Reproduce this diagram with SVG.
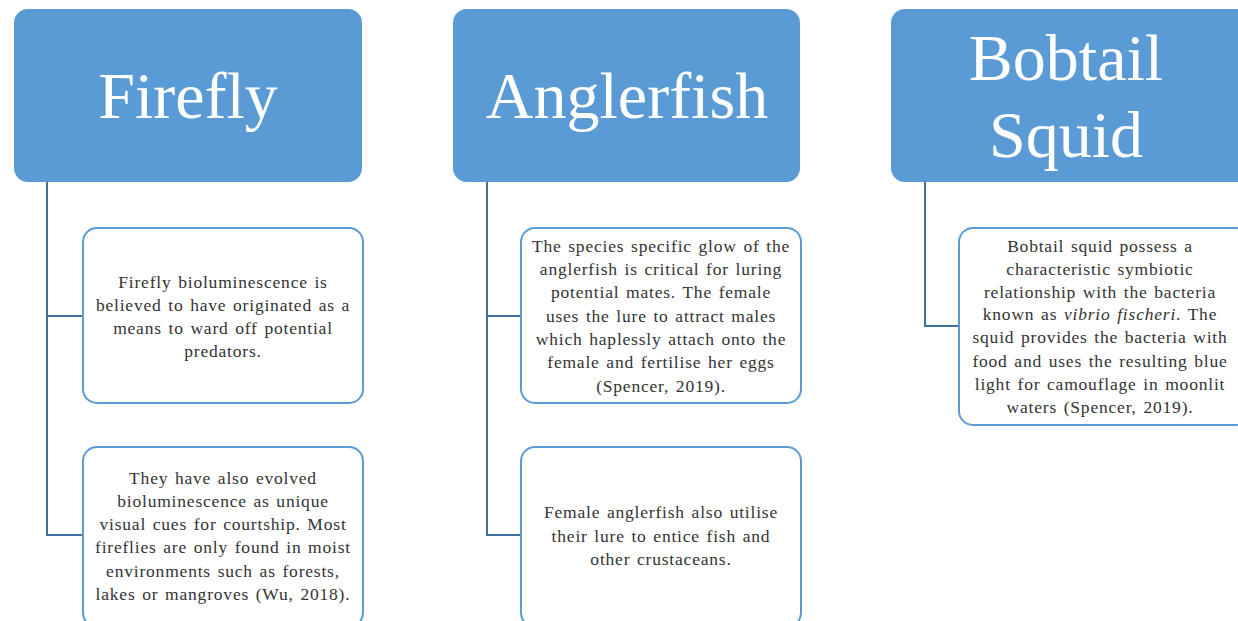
<svg xmlns="http://www.w3.org/2000/svg" width="1238" height="621" viewBox="0 0 1238 621">
<style>
.hdr{fill:#5B9BD5;}
.hdrt{font-family:"Liberation Serif",serif;font-size:66px;fill:#ffffff;text-anchor:middle;}
.box{fill:#ffffff;stroke:#5B9BD5;stroke-width:2;}
.t{font-family:"Liberation Serif",serif;font-size:17.5px;letter-spacing:0.8px;word-spacing:1.5px;fill:#333333;text-anchor:middle;}
.con{fill:none;stroke:#41719C;stroke-width:2;}
</style>
<rect width="1238" height="621" fill="#ffffff"/>
<g id="connectors">
<path class="con" d="M47,182 V535 H83 M47,316 H83"/>
<path class="con" d="M487,182 V535 H521 M487,316 H521"/>
<path class="con" d="M925,182 V326 H959"/>
</g>
<g id="firefly">
<rect class="hdr" x="14" y="9" width="348" height="173" rx="14"/>
<text class="hdrt" x="188" y="118">Firefly</text>
</g>
<g id="firefly-1">
<rect class="box" x="83" y="228" width="280" height="175" rx="14"/>
<text class="t"><tspan x="223" y="288">Firefly bioluminescence is</tspan><tspan x="223" y="311">believed to have originated as a</tspan><tspan x="223" y="334">means to ward off potential</tspan><tspan x="223" y="357">predators.</tspan></text>
</g>
<g id="firefly-2">
<rect class="box" x="83" y="447" width="280" height="180" rx="14"/>
<text class="t"><tspan x="223" y="484">They have also evolved</tspan><tspan x="223" y="507">bioluminescence as unique</tspan><tspan x="223" y="530">visual cues for courtship. Most</tspan><tspan x="223" y="553">fireflies are only found in moist</tspan><tspan x="223" y="577">environments such as forests,</tspan><tspan x="223" y="600">lakes or mangroves (Wu, 2018).</tspan></text>
</g>
<g id="anglerfish">
<rect class="hdr" x="453" y="9" width="347" height="173" rx="14"/>
<text class="hdrt" x="627" y="118">Anglerfish</text>
</g>
<g id="anglerfish-1">
<rect class="box" x="521" y="228" width="280" height="175" rx="14"/>
<text class="t"><tspan x="661" y="252">The species specific glow of the</tspan><tspan x="661" y="275">anglerfish is critical for luring</tspan><tspan x="661" y="298">potential mates. The female</tspan><tspan x="661" y="322">uses the lure to attract males</tspan><tspan x="661" y="345">which haplessly attach onto the</tspan><tspan x="661" y="368">female and fertilise her eggs</tspan><tspan x="661" y="392">(Spencer, 2019).</tspan></text>
</g>
<g id="anglerfish-2">
<rect class="box" x="521" y="447" width="280" height="180" rx="14"/>
<text class="t"><tspan x="661" y="518">Female anglerfish also utilise</tspan><tspan x="661" y="542">their lure to entice fish and</tspan><tspan x="661" y="565">other crustaceans.</tspan></text>
</g>
<g id="bobtail-squid">
<rect class="hdr" x="891" y="9" width="360" height="173" rx="14"/>
<text class="hdrt" x="1066" y="80">Bobtail</text>
<text class="hdrt" x="1066" y="157">Squid</text>
</g>
<g id="bobtail-1">
<rect class="box" x="959" y="228" width="290" height="197" rx="14"/>
<text class="t"><tspan x="1100" y="252">Bobtail squid possess a</tspan><tspan x="1100" y="275">characteristic symbiotic</tspan><tspan x="1100" y="298">relationship with the bacteria</tspan><tspan x="1100" y="320">known as <tspan font-style="italic">vibrio fischeri</tspan>. The</tspan><tspan x="1100" y="343">squid provides the bacteria with</tspan><tspan x="1100" y="367">food and uses the resulting blue</tspan><tspan x="1100" y="390">light for camouflage in moonlit</tspan><tspan x="1100" y="413">waters (Spencer, 2019).</tspan></text>
</g>
</svg>
